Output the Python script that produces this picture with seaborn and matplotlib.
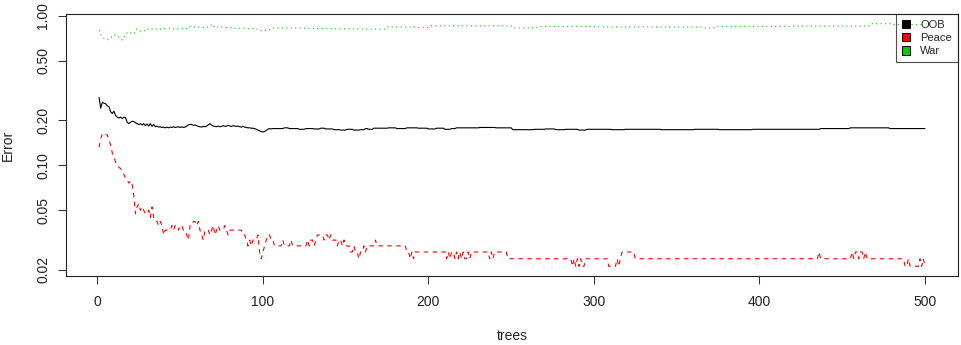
import numpy as np
import pandas as pd
import matplotlib
matplotlib.use("Agg")
import matplotlib.pyplot as plt
from matplotlib.patches import Patch
import seaborn as sns

# Error rates per number of trees, stored as (level, run length) pairs
oob_levels = [0.285, 0.241, 0.264, 0.260, 0.258, 0.250, 0.246, 0.228, 0.222, 0.230,
              0.215, 0.210, 0.207, 0.210, 0.205, 0.210, 0.208, 0.194, 0.190, 0.194,
              0.197, 0.196, 0.193, 0.190, 0.187, 0.190, 0.186, 0.190, 0.184, 0.189,
              0.183, 0.190, 0.182, 0.188, 0.181, 0.183, 0.180, 0.181, 0.179, 0.180,
              0.178, 0.180, 0.178, 0.180, 0.179, 0.181, 0.179, 0.180, 0.181, 0.179,
              0.181, 0.179, 0.180, 0.183, 0.186, 0.188, 0.187, 0.185, 0.186, 0.184,
              0.182, 0.181, 0.180, 0.182, 0.181, 0.183, 0.186, 0.190, 0.186, 0.183,
              0.182, 0.181, 0.183, 0.181, 0.182, 0.184, 0.182, 0.183, 0.185, 0.183,
              0.182, 0.184, 0.183, 0.182, 0.183, 0.181, 0.180, 0.182, 0.180, 0.179,
              0.178, 0.178, 0.177, 0.177, 0.176, 0.174, 0.172, 0.170, 0.168, 0.167,
              0.168, 0.171, 0.174, 0.176, 0.175,
              0.176, 0.178, 0.176, 0.174, 0.176, 0.175, 0.177, 0.175, 0.173, 0.172,
              0.174, 0.172, 0.173, 0.176, 0.174, 0.177, 0.178, 0.176, 0.178, 0.177,
              0.175, 0.177, 0.174, 0.176, 0.178, 0.179, 0.178, 0.173, 0.174, 0.175,
              0.173, 0.174, 0.172, 0.174, 0.173, 0.174, 0.173, 0.174, 0.173, 0.174,
              0.176, 0.178, 0.176]
oob_runs = [1] * 105 + [7, 3, 6, 4, 5, 4, 3, 5, 4, 4,
                        4, 4, 3, 2, 3, 9, 5, 6, 7, 6,
                        5, 5, 4, 3, 14, 10, 10, 13, 7, 6,
                        6, 8, 5, 15, 8, 22, 20, 15, 20, 41,
                        18, 24, 22]

peace_levels = [0.132, 0.150, 0.163, 0.160, 0.147, 0.137, 0.121, 0.113, 0.105, 0.100,
                0.097, 0.095, 0.092, 0.087, 0.082, 0.079, 0.076, 0.079, 0.074, 0.063,
                0.0474, 0.0526, 0.0553, 0.0500, 0.0526, 0.0500, 0.0474, 0.0500, 0.0447, 0.0526,
                0.0447, 0.0421, 0.0395, 0.0421, 0.0395, 0.0342, 0.0368, 0.0395, 0.0368, 0.0395,
                0.0368, 0.0395, 0.0368, 0.0342, 0.0316, 0.0395, 0.0421, 0.0395, 0.0421, 0.0368,
                0.0342, 0.0316, 0.0368, 0.0342, 0.0368, 0.0395, 0.0342, 0.0368, 0.0395, 0.0368,
                0.0395, 0.0368, 0.0342, 0.0368, 0.0342, 0.0316, 0.0289, 0.0316, 0.0289, 0.0316,
                0.0342, 0.0263, 0.0237, 0.0263, 0.0289, 0.0316, 0.0342, 0.0316, 0.0289, 0.0316,
                0.0289, 0.0316, 0.0289, 0.0316, 0.0289, 0.0316, 0.0289, 0.0316, 0.0342, 0.0316,
                0.0342, 0.0316, 0.0342, 0.0316, 0.0289, 0.0316, 0.0289, 0.0316, 0.0289, 0.0263,
                0.0289, 0.0263, 0.0237, 0.0263, 0.0289, 0.0263, 0.0289, 0.0316, 0.0289, 0.0263,
                0.0237, 0.0263, 0.0237, 0.0263, 0.0237, 0.0263, 0.0237, 0.0263, 0.0237, 0.0263,
                0.0237, 0.0263, 0.0237, 0.0263, 0.0237, 0.0263, 0.0237, 0.0263, 0.0237, 0.0263,
                0.0237, 0.0263, 0.0237, 0.0211, 0.0237, 0.0211, 0.0237, 0.0211, 0.0237, 0.0211,
                0.0237, 0.0211, 0.0237, 0.0211, 0.0237, 0.0263, 0.0237, 0.0263, 0.0237, 0.0263,
                0.0237, 0.0263, 0.0237, 0.0263, 0.0237, 0.0263, 0.0237, 0.0211, 0.0237, 0.0211,
                0.0237, 0.0211, 0.0237, 0.0211]
peace_runs = [1, 1, 2, 2, 1, 1, 1, 1, 1, 1,
              1, 1, 1, 1, 1, 1, 1, 1, 1, 1,
              1, 1, 1, 1, 1, 1, 2, 1, 1, 1,
              1, 2, 1, 1, 1, 1, 4, 1, 1, 2,
              1, 2, 2, 1, 1, 2, 2, 1, 1, 1,
              1, 1, 3, 1, 1, 1, 1, 1, 1, 3,
              1, 1, 1, 8, 2, 1, 1, 1, 1, 3,
              1, 1, 1, 1, 1, 1, 2, 2, 5, 1,
              4, 1, 9, 1, 1, 2, 1, 1, 4, 1,
              2, 1, 1, 3, 1, 2, 1, 1, 3, 2,
              1, 2, 1, 2, 1, 1, 5, 1, 18, 2,
              1, 1, 1, 19, 1, 1, 1, 2, 1, 1,
              1, 1, 1, 1, 2, 1, 1, 11, 1, 1,
              1, 8, 39, 1, 1, 1, 1, 1, 1, 2,
              14, 5, 1, 1, 1, 8, 111, 1, 19, 1,
              1, 2, 1, 2, 1, 1, 23, 2, 1, 6,
              1, 1, 1, 1]

war_levels = [0.800, 0.755, 0.720, 0.705, 0.700, 0.690, 0.705, 0.717, 0.720, 0.740,
              0.747, 0.736, 0.720, 0.717, 0.690, 0.720, 0.743, 0.770, 0.780, 0.770,
              0.766, 0.755, 0.790, 0.820, 0.800, 0.790, 0.794, 0.800, 0.790, 0.810,
              0.820, 0.810, 0.815, 0.820, 0.810, 0.820,
              0.815, 0.825, 0.815, 0.820, 0.849, 0.840, 0.835, 0.845, 0.880, 0.860,
              0.830, 0.840, 0.835, 0.825, 0.820, 0.810, 0.795, 0.810, 0.828, 0.823,
              0.818, 0.814, 0.842, 0.835, 0.857, 0.830, 0.848, 0.842, 0.840, 0.830,
              0.850, 0.853, 0.885, 0.873]
war_runs = [1] * 36 + [4, 4, 6, 4, 3, 5, 4, 2, 1, 1,
                       1, 5, 6, 8, 6, 2, 4, 3, 20, 14,
                       18, 17, 18, 8, 50, 15, 35, 39, 27, 7,
                       47, 46, 14, 20]

series_names = ["OOB", "Peace", "War"]
series_colors = ["black", "#FF0000", "#00CD00"]
x_ticks = [0, 100, 200, 300, 400, 500]
y_ticks = [0.02, 0.05, 0.10, 0.20, 0.50, 1.00]
y_tick_labels = ["0.02", "0.05", "0.10", "0.20", "0.50", "1.00"]

oob = np.repeat(oob_levels, oob_runs)
peace = np.repeat(peace_levels, peace_runs)
war = np.repeat(war_levels, war_runs)
n_trees = len(oob)

df = pd.concat([
    pd.DataFrame({"trees": np.arange(1, len(vals) + 1), "Error": vals, "series": name})
    for name, vals in zip(series_names, [oob, peace, war])
], ignore_index=True)

sns.set_style("white")
plt.rcParams["font.family"] = ["Liberation Sans", "DejaVu Sans"]

W, H = 962, 345
fig = plt.figure(figsize=(W / 100, H / 100), dpi=100)
ax = fig.add_axes([66 / W, (H - 276) / H, (958 - 66) / W, (276 - 14) / H])

palette = dict(zip(series_names, series_colors))
dashes = {"OOB": "", "Peace": (4, 4), "War": (1, 3)}
sns.lineplot(data=df, x="trees", y="Error", hue="series", style="series",
             palette=palette, dashes=dashes, linewidth=0.8, legend=False,
             estimator=None, ax=ax)

ax.set_yscale("log")

# axis ranges padded by 4% like a base R plot
lo, hi = np.log10(df["Error"].min()), np.log10(df["Error"].max())
pad = 0.04 * (hi - lo)
ax.set_ylim(10 ** (lo - pad), 10 ** (hi + pad))
xpad = 0.04 * (n_trees - 1)
ax.set_xlim(1 - xpad, n_trees + xpad)

ax.set_xticks(x_ticks)
ax.set_xticklabels([str(t) for t in x_ticks])
ax.set_yticks(y_ticks)
ax.set_yticklabels(y_tick_labels)
ax.yaxis.set_minor_locator(matplotlib.ticker.NullLocator())

ax.tick_params(axis="both", which="major", direction="out", length=5.5, width=0.75,
               color="#333333", labelsize=10, labelcolor="#222222", left=True, bottom=True)
ax.tick_params(axis="x", pad=8)
ax.tick_params(axis="y", pad=6)
plt.setp(ax.get_yticklabels(), rotation=90, rotation_mode="default",
         ha="right", va="center")

for side in ["left", "right", "top", "bottom"]:
    ax.spines[side].set_visible(True)
    ax.spines[side].set_color("#222222")
    ax.spines[side].set_linewidth(0.8)

ax.set_xlabel("trees", fontsize=10, color="#222222")
ax.set_ylabel("Error", fontsize=10, color="#222222")
ax.xaxis.label.set_va("center")
ax.yaxis.label.set_va("center")
ax.xaxis.set_label_coords(0.5, (276 - 336) / 262)
ax.yaxis.set_label_coords((8 - 66) / 892, 0.5)

handles = [Patch(facecolor=c, edgecolor="black", linewidth=0.7) for c in series_colors]
leg = ax.legend(handles, series_names, loc="upper right", borderaxespad=0,
                frameon=True, fancybox=False, edgecolor="#222222", facecolor="none",
                fontsize=8, handlelength=0.75, handleheight=0.75, handletextpad=0.88,
                borderpad=0.55, labelspacing=0.28)
leg.get_frame().set_linewidth(0.8)

fig.savefig("out.png", dpi=100)
